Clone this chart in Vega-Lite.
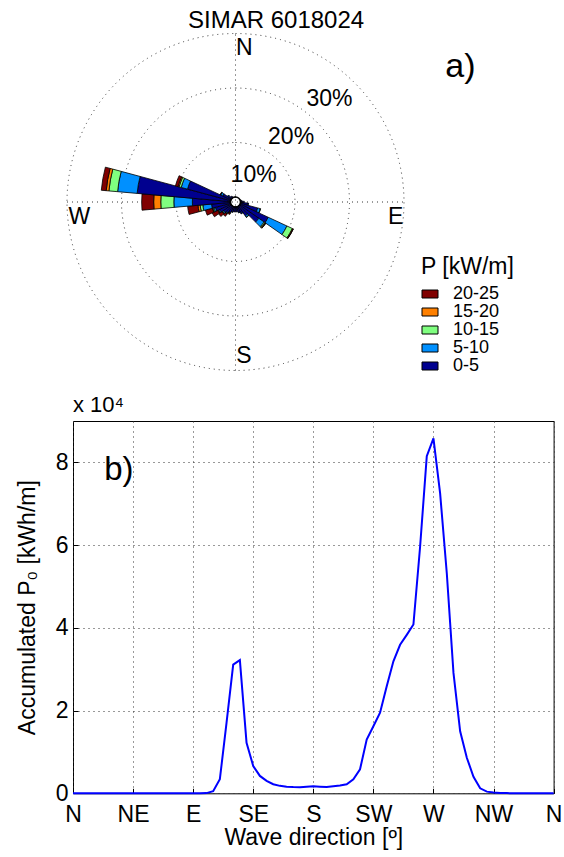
{
  "$schema": "https://vega.github.io/schema/vega-lite/v6.json",
  "padding": {"left": 16, "top": 0, "right": 0, "bottom": 0},
  "config": {
    "font": "Liberation Sans",
    "view": {"stroke": null},
    "axis": {"labelFont": "Liberation Sans", "titleFont": "Liberation Sans", "labelColor": "black", "titleColor": "black", "labelFontSize": 23, "titleFontSize": 23, "titleFontWeight": "normal", "domain": false, "ticks": true, "tickSize": -5, "tickColor": "black", "tickWidth": 1, "labelOverlap": false, "labelFlush": false},
    "text": {"font": "Liberation Sans", "color": "black"}
  },
  "datasets": {
    "rose": [
      {"dir": 80, "k": 0, "cls": "0-5", "pct": 0.3},
      {"dir": 90, "k": 0, "cls": "0-5", "pct": 0.7},
      {"dir": 100, "k": 0, "cls": "0-5", "pct": 1.4},
      {"dir": 100, "k": 1, "cls": "5-10", "pct": 0.1},
      {"dir": 110, "k": 0, "cls": "0-5", "pct": 3.3},
      {"dir": 110, "k": 1, "cls": "5-10", "pct": 0.5},
      {"dir": 110, "k": 2, "cls": "10-15", "pct": 0.05},
      {"dir": 120, "k": 0, "cls": "0-5", "pct": 5.7},
      {"dir": 120, "k": 1, "cls": "5-10", "pct": 3.8},
      {"dir": 120, "k": 2, "cls": "10-15", "pct": 1.1},
      {"dir": 120, "k": 3, "cls": "15-20", "pct": 0.15},
      {"dir": 120, "k": 4, "cls": "20-25", "pct": 0.05},
      {"dir": 130, "k": 0, "cls": "0-5", "pct": 4.3},
      {"dir": 130, "k": 1, "cls": "5-10", "pct": 1.2},
      {"dir": 130, "k": 2, "cls": "10-15", "pct": 0.2},
      {"dir": 130, "k": 3, "cls": "15-20", "pct": 0.15},
      {"dir": 130, "k": 4, "cls": "20-25", "pct": 0.05},
      {"dir": 140, "k": 0, "cls": "0-5", "pct": 2.2},
      {"dir": 140, "k": 1, "cls": "5-10", "pct": 0.3},
      {"dir": 140, "k": 2, "cls": "10-15", "pct": 0.05},
      {"dir": 150, "k": 0, "cls": "0-5", "pct": 1.4},
      {"dir": 150, "k": 1, "cls": "5-10", "pct": 0.1},
      {"dir": 160, "k": 0, "cls": "0-5", "pct": 1.1},
      {"dir": 160, "k": 1, "cls": "5-10", "pct": 0.05},
      {"dir": 170, "k": 0, "cls": "0-5", "pct": 0.9},
      {"dir": 180, "k": 0, "cls": "0-5", "pct": 0.9},
      {"dir": 190, "k": 0, "cls": "0-5", "pct": 0.9},
      {"dir": 200, "k": 0, "cls": "0-5", "pct": 1.0},
      {"dir": 200, "k": 1, "cls": "5-10", "pct": 0.05},
      {"dir": 210, "k": 0, "cls": "0-5", "pct": 1.2},
      {"dir": 210, "k": 1, "cls": "5-10", "pct": 0.1},
      {"dir": 210, "k": 2, "cls": "10-15", "pct": 0.05},
      {"dir": 210, "k": 3, "cls": "15-20", "pct": 0.05},
      {"dir": 210, "k": 4, "cls": "20-25", "pct": 0.2},
      {"dir": 220, "k": 0, "cls": "0-5", "pct": 1.5},
      {"dir": 220, "k": 1, "cls": "5-10", "pct": 0.15},
      {"dir": 220, "k": 2, "cls": "10-15", "pct": 0.1},
      {"dir": 220, "k": 3, "cls": "15-20", "pct": 0.05},
      {"dir": 220, "k": 4, "cls": "20-25", "pct": 0.5},
      {"dir": 230, "k": 0, "cls": "0-5", "pct": 1.8},
      {"dir": 230, "k": 1, "cls": "5-10", "pct": 0.2},
      {"dir": 230, "k": 2, "cls": "10-15", "pct": 0.1},
      {"dir": 230, "k": 3, "cls": "15-20", "pct": 0.05},
      {"dir": 230, "k": 4, "cls": "20-25", "pct": 0.7},
      {"dir": 240, "k": 0, "cls": "0-5", "pct": 2.3},
      {"dir": 240, "k": 1, "cls": "5-10", "pct": 0.2},
      {"dir": 240, "k": 2, "cls": "10-15", "pct": 0.1},
      {"dir": 240, "k": 3, "cls": "15-20", "pct": 0.1},
      {"dir": 240, "k": 4, "cls": "20-25", "pct": 1.1},
      {"dir": 250, "k": 0, "cls": "0-5", "pct": 2.9},
      {"dir": 250, "k": 1, "cls": "5-10", "pct": 0.3},
      {"dir": 250, "k": 2, "cls": "10-15", "pct": 0.2},
      {"dir": 250, "k": 3, "cls": "15-20", "pct": 0.1},
      {"dir": 250, "k": 4, "cls": "20-25", "pct": 1.3},
      {"dir": 260, "k": 0, "cls": "0-5", "pct": 3.5},
      {"dir": 260, "k": 1, "cls": "5-10", "pct": 1.6},
      {"dir": 260, "k": 2, "cls": "10-15", "pct": 0.5},
      {"dir": 260, "k": 3, "cls": "15-20", "pct": 0.4},
      {"dir": 260, "k": 4, "cls": "20-25", "pct": 1.9},
      {"dir": 270, "k": 0, "cls": "0-5", "pct": 7.0},
      {"dir": 270, "k": 1, "cls": "5-10", "pct": 3.4},
      {"dir": 270, "k": 2, "cls": "10-15", "pct": 2.4},
      {"dir": 270, "k": 3, "cls": "15-20", "pct": 1.3},
      {"dir": 270, "k": 4, "cls": "20-25", "pct": 2.2},
      {"dir": 280, "k": 0, "cls": "0-5", "pct": 17.2},
      {"dir": 280, "k": 1, "cls": "5-10", "pct": 3.6},
      {"dir": 280, "k": 2, "cls": "10-15", "pct": 1.6},
      {"dir": 280, "k": 3, "cls": "15-20", "pct": 0.5},
      {"dir": 280, "k": 4, "cls": "20-25", "pct": 0.9},
      {"dir": 290, "k": 0, "cls": "0-5", "pct": 8.2},
      {"dir": 290, "k": 1, "cls": "5-10", "pct": 1.2},
      {"dir": 290, "k": 2, "cls": "10-15", "pct": 0.4},
      {"dir": 290, "k": 3, "cls": "15-20", "pct": 0.2},
      {"dir": 290, "k": 4, "cls": "20-25", "pct": 0.5},
      {"dir": 300, "k": 0, "cls": "0-5", "pct": 1.7},
      {"dir": 300, "k": 1, "cls": "5-10", "pct": 0.4},
      {"dir": 300, "k": 2, "cls": "10-15", "pct": 0.05},
      {"dir": 300, "k": 4, "cls": "20-25", "pct": 0.05},
      {"dir": 310, "k": 0, "cls": "0-5", "pct": 0.8},
      {"dir": 310, "k": 1, "cls": "5-10", "pct": 0.1},
      {"dir": 320, "k": 0, "cls": "0-5", "pct": 0.4},
      {"dir": 330, "k": 0, "cls": "0-5", "pct": 0.2}
    ],
    "rings": [{"ring": 10}, {"ring": 20}, {"ring": 30}],
    "cross": [{"x0": -30, "x1": 30, "y0": 0, "y1": 0}, {"x0": 0, "x1": 0, "y0": -30, "y1": 30}],
    "roselabels": [
      {"t": "N", "ang": 3.3, "p": 27.4},
      {"t": "S", "ang": 176.9, "p": 27.45},
      {"t": "W", "ang": 264.4, "p": 27.85},
      {"t": "E", "ang": 95.45, "p": 28.6},
      {"t": "10%", "ang": 34.2, "p": 5.0},
      {"t": "20%", "ang": 40.6, "p": 14.75},
      {"t": "30%", "ang": 42.35, "p": 24.7}
    ],
    "energy": [
      {"deg": 0, "P": 0}, {"deg": 5, "P": 0}, {"deg": 10, "P": 0}, {"deg": 15, "P": 0}, {"deg": 20, "P": 0},
      {"deg": 25, "P": 0}, {"deg": 30, "P": 0}, {"deg": 35, "P": 0}, {"deg": 40, "P": 0}, {"deg": 45, "P": 0},
      {"deg": 50, "P": 0}, {"deg": 55, "P": 0}, {"deg": 60, "P": 0}, {"deg": 65, "P": 0}, {"deg": 70, "P": 0},
      {"deg": 75, "P": 0}, {"deg": 80, "P": 0}, {"deg": 85, "P": 0}, {"deg": 90, "P": 0}, {"deg": 95, "P": 0},
      {"deg": 100, "P": 0.005}, {"deg": 105, "P": 0.05}, {"deg": 110, "P": 0.34}, {"deg": 115, "P": 1.7},
      {"deg": 120, "P": 3.11}, {"deg": 125, "P": 3.22}, {"deg": 130, "P": 1.22}, {"deg": 135, "P": 0.66},
      {"deg": 140, "P": 0.42}, {"deg": 145, "P": 0.3}, {"deg": 150, "P": 0.22}, {"deg": 155, "P": 0.18},
      {"deg": 160, "P": 0.16}, {"deg": 165, "P": 0.15}, {"deg": 170, "P": 0.145}, {"deg": 175, "P": 0.16},
      {"deg": 180, "P": 0.17}, {"deg": 185, "P": 0.16}, {"deg": 190, "P": 0.15}, {"deg": 195, "P": 0.17},
      {"deg": 200, "P": 0.19}, {"deg": 205, "P": 0.22}, {"deg": 210, "P": 0.34}, {"deg": 215, "P": 0.58},
      {"deg": 220, "P": 1.3}, {"deg": 225, "P": 1.62}, {"deg": 230, "P": 1.95}, {"deg": 235, "P": 2.59},
      {"deg": 240, "P": 3.19}, {"deg": 245, "P": 3.59}, {"deg": 250, "P": 3.83}, {"deg": 255, "P": 4.08},
      {"deg": 260, "P": 5.96}, {"deg": 265, "P": 8.15}, {"deg": 270, "P": 8.58}, {"deg": 275, "P": 7.25},
      {"deg": 280, "P": 5.32}, {"deg": 285, "P": 2.91}, {"deg": 290, "P": 1.5}, {"deg": 295, "P": 0.86},
      {"deg": 300, "P": 0.4}, {"deg": 305, "P": 0.12}, {"deg": 310, "P": 0.04}, {"deg": 315, "P": 0.02},
      {"deg": 320, "P": 0.01}, {"deg": 325, "P": 0.005}, {"deg": 330, "P": 0}, {"deg": 335, "P": 0},
      {"deg": 340, "P": 0}, {"deg": 345, "P": 0}, {"deg": 350, "P": 0}, {"deg": 355, "P": 0}, {"deg": 360, "P": 0}
    ]
  },
  "bounds": "flush",
  "spacing": 17,
  "resolve": {"scale": {"fill": "independent"}, "legend": {"fill": "independent"}},
  "vconcat": [
    {
      "width": 325,
      "height": 404,
      "layer": [
        {
          "data": {"name": "rings"},
          "mark": {"type": "arc", "theta": 0, "theta2": 6.2832, "filled": false, "stroke": "#333333", "strokeWidth": 1, "strokeDash": [1, 4]},
          "encoding": {
            "radius": {"field": "ring", "type": "quantitative", "stack": null, "scale": {"type": "linear", "domain": [0, 30], "range": [5, 168.5], "zero": false}}
          }
        },
        {
          "data": {"name": "cross"},
          "mark": {"type": "rule", "stroke": "#333333", "strokeWidth": 1, "strokeDash": [1, 4]},
          "encoding": {
            "x": {"field": "x0", "type": "quantitative", "scale": {"domain": [-28.93, 28.93], "nice": false, "zero": false}, "axis": null},
            "x2": {"field": "x1"},
            "y": {"field": "y0", "type": "quantitative", "scale": {"domain": [-35.96, 35.96], "nice": false, "zero": false}, "axis": null},
            "y2": {"field": "y1"}
          }
        },
        {
          "data": {"name": "rose"},
          "transform": [
            {"bin": {"step": 10, "extent": [-5, 365], "nice": false}, "field": "dir", "as": ["a0", "a1"]},
            {"stack": "pct", "groupby": ["dir"], "sort": [{"field": "k", "order": "ascending"}], "as": ["r0", "r1"]}
          ],
          "mark": {"type": "arc", "stroke": "black", "strokeWidth": 0.8},
          "encoding": {
            "theta": {"field": "a0", "type": "quantitative", "stack": null, "scale": {"type": "linear", "domain": [0, 360], "range": [0, 6.283185307]}},
            "theta2": {"field": "a1"},
            "radius": {"field": "r1", "type": "quantitative", "stack": null, "scale": {"type": "linear", "domain": [0, 30], "range": [5, 168.5], "zero": false}},
            "radius2": {"field": "r0"},
            "fill": {
              "field": "cls", "type": "nominal",
              "scale": {"domain": ["20-25", "15-20", "10-15", "5-10", "0-5"], "range": ["#800000", "#FF8000", "#80FF80", "#0090FF", "#00008F"]},
              "legend": {
                "orient": "none", "legendX": 348, "legendY": 256, "padding": 0,
                "title": "P [kW/m]", "titleFontSize": 23, "titleFontWeight": "normal", "titleColor": "black", "titlePadding": 6, "titleAnchor": "start",
                "labelFontSize": 18, "labelColor": "black", "labelOffset": 14,
                "symbolType": "M-2,-1H2V1H-2Z", "symbolSize": 64, "symbolStrokeColor": "black", "symbolStrokeWidth": 1, "symbolOpacity": 1,
                "rowPadding": -2
              }
            }
          }
        },
        {
          "data": {"values": [{"c": 0}]},
          "mark": {"type": "arc", "theta": 0, "theta2": 6.2832, "fill": "white", "stroke": "black", "strokeWidth": 1.5},
          "encoding": {
            "radius": {"field": "c", "type": "quantitative", "stack": null, "scale": {"type": "linear", "domain": [0, 30], "range": [5, 168.5], "zero": false}}
          }
        },
        {
          "data": {"name": "roselabels"},
          "mark": {"type": "text", "align": "center", "baseline": "middle", "fontSize": 23},
          "encoding": {
            "theta": {"field": "ang", "type": "quantitative", "stack": null, "scale": {"type": "linear", "domain": [0, 360], "range": [0, 6.283185307]}},
            "radius": {"field": "p", "type": "quantitative", "stack": null, "scale": {"type": "linear", "domain": [0, 30], "range": [5, 168.5], "zero": false}},
            "text": {"field": "t"}
          }
        },
        {
          "data": {"values": [{"t": "SIMAR 6018024", "ang": 12.67, "p": 33.05}]},
          "mark": {"type": "text", "align": "center", "baseline": "middle", "fontSize": 24},
          "encoding": {
            "theta": {"field": "ang", "type": "quantitative", "stack": null, "scale": {"type": "linear", "domain": [0, 360], "range": [0, 6.283185307]}},
            "radius": {"field": "p", "type": "quantitative", "stack": null, "scale": {"type": "linear", "domain": [0, 30], "range": [5, 168.5], "zero": false}},
            "text": {"field": "t"}
          }
        },
        {
          "data": {"values": [{"t": "a)", "ang": 59.05, "p": 47.2}]},
          "mark": {"type": "text", "align": "center", "baseline": "middle", "fontSize": 34},
          "encoding": {
            "theta": {"field": "ang", "type": "quantitative", "stack": null, "scale": {"type": "linear", "domain": [0, 360], "range": [0, 6.283185307]}},
            "radius": {"field": "p", "type": "quantitative", "stack": null, "scale": {"type": "linear", "domain": [0, 30], "range": [5, 168.5], "zero": false}},
            "text": {"field": "t"}
          }
        }
      ]
    },
    {
      "width": 480.6,
      "height": 372.3,
      "view": {"stroke": "black", "strokeWidth": 1},
      "layer": [
        {
          "data": {"name": "energy"},
          "mark": {"type": "line", "color": "#0000FF", "strokeWidth": 2},
          "encoding": {
            "x": {
              "field": "deg", "type": "quantitative",
              "scale": {"domain": [0, 360], "nice": false, "zero": false},
              "axis": {
                "values": [0, 45, 90, 135, 180, 225, 270, 315, 360],
                "labelExpr": "['N','NE','E','SE','S','SW','W','NW','N'][round(datum.value/45)]",
                "labelBaseline": "alphabetic", "labelPadding": 33,
                "title": "Wave direction [º]", "titleBaseline": "alphabetic", "titleY": 51, "titleX": 240.3, "titleAlign": "center",
                "grid": true, "gridColor": "#333333", "gridDash": [1, 4], "gridOpacity": 1
              }
            },
            "y": {
              "field": "P", "type": "quantitative",
              "scale": {"domain": [0, 9], "nice": false},
              "axis": {
                "values": [0, 2, 4, 6, 8], "format": "d", "labelPadding": 10,
                "title": "Accumulated P₀ [kWh/m]", "titleAngle": 270, "titleX": -38.2, "titleY": 186.15, "titleAlign": "center", "titleBaseline": "alphabetic",
                "grid": true, "gridColor": "#333333", "gridDash": [1, 4], "gridOpacity": 1
              }
            }
          }
        },
        {
          "data": {"values": [{"deg": 0, "P": 9.22, "t": "x 10⁴"}]},
          "mark": {"type": "text", "align": "left", "baseline": "alphabetic", "fontSize": 22},
          "encoding": {
            "x": {"field": "deg", "type": "quantitative"},
            "y": {"field": "P", "type": "quantitative"},
            "text": {"field": "t"}
          }
        },
        {
          "data": {"values": [{"deg": 23.4, "P": 7.57, "t": "b)"}]},
          "mark": {"type": "text", "align": "left", "baseline": "alphabetic", "fontSize": 33},
          "encoding": {
            "x": {"field": "deg", "type": "quantitative"},
            "y": {"field": "P", "type": "quantitative"},
            "text": {"field": "t"}
          }
        }
      ]
    }
  ]
}
